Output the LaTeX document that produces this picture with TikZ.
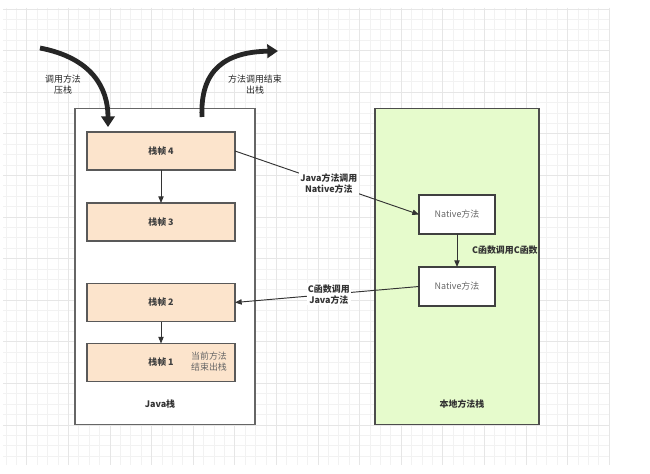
\documentclass[tikz,border=0pt]{standalone}
\usepackage{fontspec}
\setmainfont{Noto Sans CJK SC}
\usetikzlibrary{arrows.meta}
\definecolor{peach}{HTML}{FCE4CC}
\definecolor{lgreen}{HTML}{E6FBCC}
\definecolor{gridc}{HTML}{F2F2F2}
\definecolor{gridm}{HTML}{E6E6E6}
\newcommand{\fs}{\fontsize{6.7pt}{8.3pt}\selectfont}
\begin{document}
\begin{tikzpicture}[x=0.75pt,y=-0.75pt,
  stackframe/.style={draw=black!65, fill=peach, line width=0.9pt, minimum width=111pt, minimum height=28.5pt, inner sep=0pt, outer sep=0pt, font=\fs\bfseries, text=black!75},
  nativebox/.style={draw=black!75, fill=white, line width=0.9pt, minimum width=57pt, minimum height=29.25pt, inner sep=0pt, outer sep=0pt, font=\fs, text=black!60},
  container/.style={draw=black!60, line width=0.9pt, minimum width=135pt, minimum height=236.5pt, inner sep=0pt, outer sep=0pt},
  lbl/.style={font=\fs\bfseries, text=black!80, align=center, inner sep=1pt},
  thinarrow/.style={draw=black!80, line width=0.7pt, -{Triangle[length=5pt,width=4pt]}},
  bigarrow/.style={draw=black!85, line width=3.6pt, -{Triangle[length=8pt,width=10pt]}}
]
\useasboundingbox (0,0) rectangle (650,474);
\fill[white] (0,0) rectangle (650,474);
% background grid
\foreach \k in {0,...,58} {\draw[gridc, line width=0.5pt] ({6+10.4*\k},8) -- ({6+10.4*\k},465);}
\foreach \k in {0,...,43} {\draw[gridc, line width=0.5pt] (3,{9+10.4*\k}) -- (610,{9+10.4*\k});}
\foreach \k in {0,...,14} {\draw[gridm, line width=0.5pt] ({26.8+41.6*\k},8) -- ({26.8+41.6*\k},465);}
\foreach \k in {0,...,10} {\draw[gridm, line width=0.5pt] (3,{9+41.6*\k}) -- (610,{9+41.6*\k});}

% containers
\node[container, fill=white] (javastack) at (165,266.5) {};
\node[container, fill=lgreen, minimum width=123pt, draw=black!70] (nativestack) at (457,266.5) {};

% frames
\node[stackframe] (f4) at (161,151) {栈帧 4};
\node[stackframe] (f3) at (161,222) {栈帧 3};
\node[stackframe] (f2) at (161,302.5) {栈帧 2};
\node[stackframe] (f1) at (161,362.5) {栈帧 1};
\node[font=\fs, text=black!60, align=center, inner sep=0pt] (cur) at (209,362) {当前方法\\结束出栈};

% native boxes
\node[nativebox] (n1) at (457,214.5) {Native方法};
\node[nativebox] (n2) at (457,286.5) {Native方法};

% labels
\node[lbl] (jlabel) at (160,404) {Java栈};
\node[lbl] (nlabel) at (462,404) {本地方法栈};
\node[lbl, font=\fs, text=black!85] (push) at (63,85) {调用方法\\压栈};
\node[lbl, font=\fs, text=black!85] (pop) at (255,85) {方法调用结束\\出栈};

% vertical arrows
\draw[thinarrow] (f4) -- (f3);
\draw[thinarrow] (f2) -- (f1);
\draw[thinarrow] (n1) -- node[lbl, anchor=west, xshift=11pt, inner sep=0pt] (cc) {C函数调用C函数} (n2);

% cross arrows
\draw[thinarrow] (f4.east) -- node[lbl, fill=white, pos=0.51] (j2n) {Java方法调用\\Native方法} (n1.west);
\draw[thinarrow] (n2.west) -- node[lbl, fill=white, pos=0.49] (c2j) {C函数调用\\Java方法} (f2.east);

% big curved arrows
\coordinate (inS) at (40,48);
\coordinate (inE) at (108,127);
\coordinate (outS) at (202,117);
\coordinate (outE) at (278,51);
\draw[bigarrow] (inS) .. controls (92,58) and (108,88) .. (inE);
\draw[bigarrow] (outS) .. controls (200,70) and (225,52) .. (outE);
\end{tikzpicture}
\end{document}
